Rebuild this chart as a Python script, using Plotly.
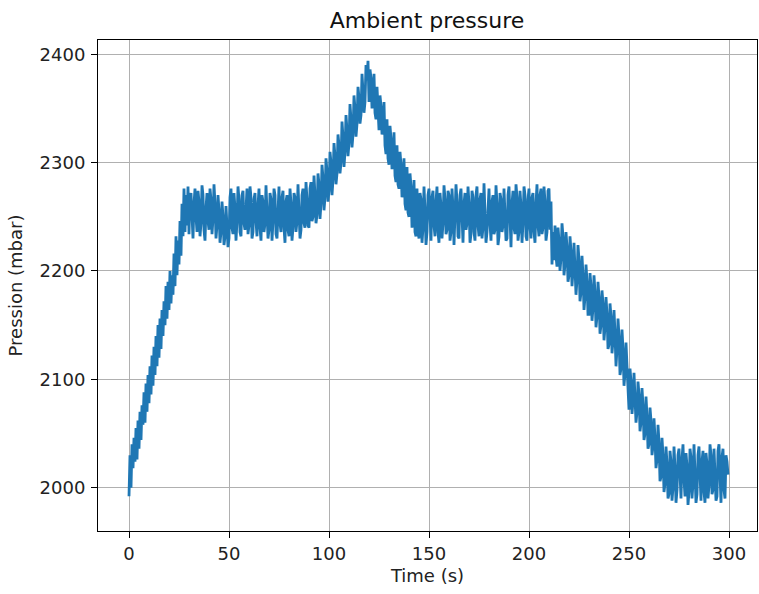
import plotly.graph_objects as go

# sampling every 0.5 s over 0 - 299.5 s
time_s = [i * 0.5 for i in range(600)]

pressure_mbar = [
    # 0 - 14.5 s
    1992, 2030, 2000, 2040, 2018, 2046, 2024, 2055, 2026, 2062,
    2036, 2070, 2044, 2076, 2058, 2088, 2060, 2096, 2070, 2104,
    2078, 2112, 2086, 2122, 2094, 2130, 2104, 2140, 2112, 2150,
    # 15 - 29.5 s
    2120, 2156, 2128, 2164, 2140, 2172, 2150, 2186, 2156, 2190,
    2164, 2200, 2170, 2196, 2178, 2216, 2186, 2232, 2196, 2228,
    2206, 2246, 2214, 2262, 2232, 2276, 2236, 2270, 2242, 2278,
    # 30 - 89.5 s
    2234, 2268, 2272, 2240, 2230, 2262, 2276, 2250, 2236, 2274,
    2264, 2232, 2244, 2279, 2270, 2238, 2228, 2258, 2272, 2246,
    2238, 2276, 2266, 2234, 2248, 2280, 2262, 2230, 2242, 2270,
    2256, 2226, 2236, 2264, 2250, 2224, 2232, 2260, 2244, 2222,
    2230, 2268, 2276, 2240, 2234, 2272, 2258, 2228, 2246, 2278,
    2266, 2236, 2232, 2270, 2274, 2244, 2238, 2262, 2276, 2234,
    2242, 2278, 2268, 2230, 2236, 2266, 2272, 2246, 2232, 2260,
    2276, 2240, 2228, 2270, 2264, 2236, 2244, 2279, 2258, 2230,
    2238, 2272, 2266, 2228, 2246, 2276, 2270, 2234, 2230, 2262,
    2278, 2244, 2236, 2268, 2274, 2240, 2226, 2264, 2270, 2238,
    2232, 2276, 2262, 2228, 2240, 2272, 2268, 2236, 2246, 2280,
    2258, 2230, 2238, 2270, 2276, 2244, 2240, 2282, 2266, 2242,
    # 90 - 119.5 s
    2240, 2276, 2282, 2246, 2250, 2288, 2270, 2244, 2252, 2290,
    2280, 2248, 2262, 2298, 2286, 2256, 2268, 2304, 2292, 2264,
    2274, 2310, 2300, 2270, 2284, 2318, 2306, 2280, 2290, 2326,
    2316, 2290, 2300, 2338, 2324, 2296, 2310, 2344, 2330, 2306,
    2318, 2354, 2340, 2314, 2326, 2362, 2350, 2324, 2336, 2370,
    2360, 2336, 2344, 2382, 2366, 2346, 2356, 2390, 2376, 2394,
    # 120 - 149.5 s
    2356, 2386, 2378, 2350, 2362, 2382, 2346, 2340, 2370, 2338,
    2330, 2362, 2352, 2326, 2334, 2356, 2316, 2308, 2340, 2304,
    2298, 2334, 2322, 2294, 2304, 2328, 2288, 2282, 2316, 2280,
    2276, 2310, 2298, 2268, 2282, 2304, 2262, 2256, 2296, 2254,
    2250, 2290, 2278, 2240, 2258, 2284, 2236, 2232, 2276, 2238,
    2230, 2272, 2266, 2226, 2240, 2278, 2256, 2224, 2236, 2270,
    # 150 - 209.5 s
    2276, 2238, 2228, 2268, 2274, 2242, 2232, 2264, 2278, 2236,
    2226, 2272, 2260, 2230, 2244, 2279, 2266, 2234, 2238, 2274,
    2270, 2228, 2236, 2276, 2258, 2224, 2246, 2280, 2264, 2232,
    2230, 2270, 2276, 2240, 2226, 2262, 2272, 2238, 2244, 2278,
    2262, 2226, 2234, 2274, 2268, 2236, 2228, 2270, 2278, 2242,
    2232, 2266, 2272, 2230, 2240, 2281, 2260, 2226, 2236, 2268,
    2276, 2244, 2228, 2264, 2270, 2234, 2238, 2279, 2262, 2224,
    2232, 2272, 2266, 2236, 2242, 2276, 2258, 2228, 2230, 2270,
    2278, 2238, 2222, 2262, 2274, 2240, 2234, 2280, 2268, 2228,
    2236, 2274, 2260, 2226, 2244, 2278, 2270, 2232, 2228, 2266,
    2276, 2240, 2230, 2268, 2272, 2236, 2226, 2262, 2280, 2242,
    2232, 2270, 2276, 2234, 2240, 2278, 2264, 2228, 2236, 2274,
    # 210 - 269.5 s
    2276, 2238, 2264, 2206, 2236, 2210, 2242, 2214, 2204, 2240,
    2228, 2200, 2212, 2244, 2232, 2196, 2206, 2236, 2222, 2190,
    2196, 2232, 2218, 2186, 2200, 2226, 2206, 2178, 2192, 2224,
    2210, 2172, 2180, 2214, 2196, 2164, 2176, 2206, 2190, 2160,
    2160, 2198, 2186, 2154, 2166, 2196, 2180, 2148, 2158, 2190,
    2176, 2142, 2150, 2182, 2170, 2136, 2148, 2176, 2160, 2128,
    2132, 2170, 2158, 2124, 2136, 2164, 2142, 2112, 2128, 2156,
    2140, 2104, 2110, 2146, 2128, 2094, 2106, 2134, 2112, 2080,
    2072, 2110, 2098, 2068, 2080, 2106, 2088, 2060, 2070, 2098,
    2086, 2052, 2060, 2092, 2076, 2044, 2050, 2084, 2066, 2036,
    2040, 2074, 2062, 2030, 2038, 2064, 2046, 2018, 2026, 2058,
    2042, 2006, 2010, 2046, 2030, 1996, 2004, 2038, 2022, 1990,
    # 270 - 299.5 s
    1994, 2034, 2024, 1988, 2000, 2038, 2018, 1986, 1998, 2030,
    2036, 2002, 1990, 2026, 2040, 2008, 1992, 2032, 2020, 1984,
    1996, 2036, 2028, 1990, 2004, 2040, 2012, 1986, 1994, 2030,
    2038, 2000, 1988, 2024, 2034, 1996, 1986, 2032, 2022, 1990,
    2002, 2040, 2030, 1994, 1998, 2036, 2016, 1988, 1992, 2034,
    2040, 2006, 1986, 2028, 2036, 1998, 1990, 2030, 2024, 2012,
]

x_ticks = [0, 50, 100, 150, 200, 250, 300]
y_ticks = [2000, 2100, 2200, 2300, 2400]

font_family = "DejaVu Sans"
text_color = "#222222"

fig = go.Figure()
fig.add_trace(go.Scatter(
    x=time_s, y=pressure_mbar, mode="lines",
    line=dict(color="#1f77b4", width=2.8),
    showlegend=False,
))

axis_common = dict(
    showline=True, linecolor="black", linewidth=1, mirror=True,
    showgrid=True, gridcolor="#b0b0b0", gridwidth=1,
    ticks="outside", ticklen=6, tickcolor="black", tickwidth=1,
    zeroline=False,
    tickfont=dict(family=font_family, size=18, color=text_color),
)

fig.update_layout(
    width=759, height=594,
    margin=dict(l=98, r=2, t=40, b=63),
    paper_bgcolor="white", plot_bgcolor="white",
    title=dict(text="Ambient pressure", x=0.5626, xanchor="center",
               y=0.966, yanchor="middle",
               font=dict(family=font_family, size=22, color="#111111")),
    xaxis=dict(range=[-15.5, 314], tickvals=x_ticks,
               title=dict(text="Time (s)", standoff=6,
                          font=dict(family=font_family, size=18, color=text_color)),
               **axis_common),
    yaxis=dict(range=[1960, 2413.2], tickvals=y_ticks, ticklabelstandoff=2,
               title=dict(text="Pression (mbar)", standoff=12,
                          font=dict(family=font_family, size=18, color=text_color)),
               **axis_common),
)

fig.write_html("out.html", config={"displayModeBar": False},
               post_script="document.body.style.margin='0';")
